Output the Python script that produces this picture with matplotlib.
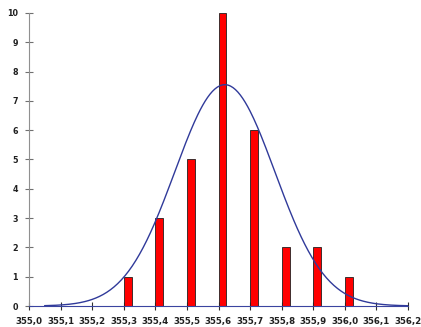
import numpy as np
import matplotlib
matplotlib.use("Agg")
import matplotlib.pyplot as plt

values = [355.3, 355.4, 355.5, 355.6, 355.7, 355.8, 355.9, 356.0]
counts = [1, 3, 5, 10, 6, 2, 2, 1]
xtick_vals = [355.0, 355.1, 355.2, 355.3, 355.4, 355.5, 355.6, 355.7, 355.8, 355.9, 356.0, 356.1, 356.2]
xtick_labels = ["355,0", "355,1", "355,2", "355,3", "355,4", "355,5", "355,6",
                "355,7", "355,8", "355,9", "356,0", "356,1", "356,2"]
yticks = list(range(0, 11))

# fitted normal curve from the bar data
v = np.array(values); c = np.array(counts)
n = c.sum()
mu = (v * c).sum() / n
sd = np.sqrt(((v - mu) ** 2 * c).sum() / (n - 1))
xs = np.linspace(355.05, 356.2, 300)
ys = n * 0.1 / (sd * np.sqrt(2 * np.pi)) * np.exp(-0.5 * ((xs - mu) / sd) ** 2)

plt.rcParams['font.family'] = ['Liberation Sans', 'DejaVu Sans']
fig = plt.figure(figsize=(4.21, 3.27), dpi=100)
ax = fig.add_axes([29/421, 21/327, (408-29)/421, (306-13)/327])

ax.bar(values, counts, width=0.025, align='edge', color='#ff0000',
       edgecolor='#202020', linewidth=0.6, zorder=2)
ax.plot(xs, ys, color='#303a9a', linewidth=1.0, zorder=3)

ax.set_xlim(355.0, 356.2)
ax.set_ylim(0, 10)
ax.set_xticks(xtick_vals)
ax.set_xticklabels(xtick_labels, fontfamily='DejaVu Sans', fontsize=6.2, fontweight='bold')
ax.set_yticks(yticks)
ax.set_yticklabels([str(t) for t in yticks], fontfamily='DejaVu Sans', fontsize=5.8,
                   fontweight='bold')
for s in ['top', 'right']:
    ax.spines[s].set_visible(False)
ax.spines['left'].set_color('#909090')
ax.spines['bottom'].set_color('#3a44a0')
ax.tick_params(axis='x', direction='inout', length=6, width=0.8, color='#303030', pad=5)
ax.tick_params(axis='y', direction='inout', length=6, width=0.8, color='#707070', pad=5)
for lab in ax.get_xticklabels() + ax.get_yticklabels():
    lab.set_color('#202020')

fig.savefig('out.png', dpi=100)
